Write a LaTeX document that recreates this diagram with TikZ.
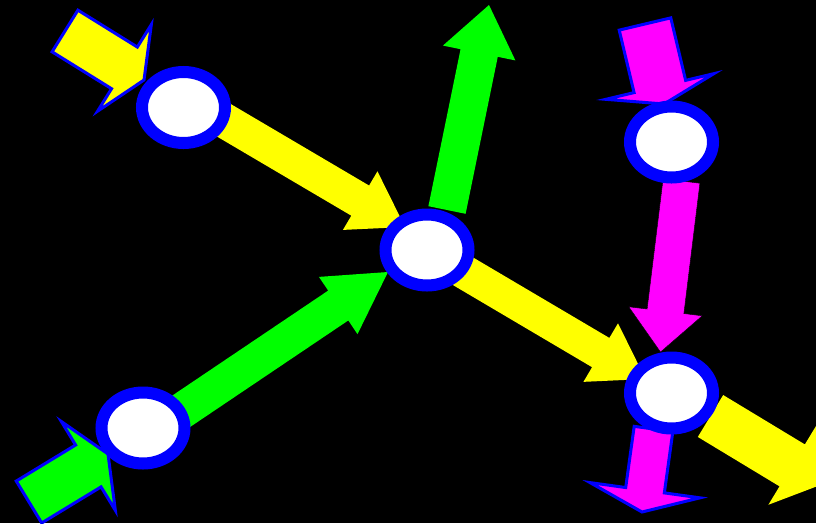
\documentclass[tikz,border=0pt]{standalone}
\usetikzlibrary{calc,shapes.geometric}
\pgfdeclarelayer{flows}
\pgfsetlayers{flows,main}
\definecolor{flowyellow}{RGB}{255,255,0}
\definecolor{flowgreen}{RGB}{0,255,0}
\definecolor{flowmagenta}{RGB}{255,0,255}
\definecolor{hubblue}{RGB}{0,0,255}
\newcommand{\flowarrow}[6]{%
  \path[#1] ($(#2)!#4!90:(#3)$) -- ($(#3)!#6!(#2)!#4!-90:(#2)$)
    -- ($(#3)!#6!(#2)!#5!-90:(#2)$) -- (#3)
    -- ($(#3)!#6!(#2)!#5!90:(#2)$) -- ($(#3)!#6!(#2)!#4!90:(#2)$)
    -- ($(#2)!#4!-90:(#3)$) -- cycle;}

\begin{document}
\begin{tikzpicture}[
  x=1pt, y=-1pt,
  hub/.style={ellipse, draw=hubblue, fill=white, line width=12pt, minimum width=83pt, minimum height=71pt, inner sep=0pt},
  yflow/.style={fill=flowyellow},
  gflow/.style={fill=flowgreen},
  mflow/.style={fill=flowmagenta},
  rim/.style={draw=hubblue, line width=3pt}
]
  \useasboundingbox (0,0) rectangle (816,523);
  \node[hub] (n1) at (183.5,107.5) {};
  \node[hub] (n2) at (427,250) {};
  \node[hub] (n3) at (671.5,142) {};
  \node[hub] (n4) at (143,428) {};
  \node[hub] (n5) at (671.5,393) {};

  \coordinate (y1t) at (65,31);
  \coordinate (y1h) at ($(n1)+(-39.5,-27.5)$);
  \coordinate (y2t) at ($(n1)+(0,-11)$);
  \coordinate (y2h) at ($(n2)+(-22,-23)$);
  \coordinate (y3h) at ($(n5)+(-26,-14)$);
  \coordinate (y4t) at ($(n5)+(39,23)$);
  \coordinate (y4h) at (823,484);
  \coordinate (g1t) at (29,502);
  \coordinate (g1h) at ($(n4)+(-35,26)$);
  \coordinate (g2t) at ($(n4)+(0,9)$);
  \coordinate (g2h) at ($(n2)+(-39,22)$);
  \coordinate (g3t) at ($(n2)+(20,-40)$);
  \coordinate (g3h) at (489,5);
  \coordinate (m1t) at (645,24);
  \coordinate (m1h) at ($(n3)+(-7.5,-38)$);
  \coordinate (m2t) at ($(n3)+(10,39)$);
  \coordinate (m2h) at ($(n5)+(-11,-41)$);
  \coordinate (m3t) at ($(n5)+(-18,36)$);
  \coordinate (m3h) at (642,512);

  \begin{pgfonlayer}{flows}
    \clip (0,0) rectangle (816,523);
    \fill[black] (0,0) rectangle (816,523);
    \flowarrow{yflow, rim}{y1t}{y1h}{24.5pt}{51pt}{23pt}
    \flowarrow{yflow}{y2t}{y2h}{17.5pt}{34pt}{52pt}
    \flowarrow{yflow}{n2}{y3h}{17pt}{34pt}{52pt}
    \flowarrow{yflow}{y4t}{y4h}{24.5pt}{46pt}{36pt}
    \flowarrow{gflow, rim}{g1t}{g1h}{24.5pt}{52pt}{23pt}
    \flowarrow{gflow}{g2t}{g2h}{18pt}{34.5pt}{60pt}
    \flowarrow{gflow}{g3t}{g3h}{19pt}{37pt}{49pt}
    \flowarrow{mflow, rim}{m1t}{m1h}{26.5pt}{55.5pt}{18pt}
    \flowarrow{mflow, draw=black}{m2t}{m2h}{18.5pt}{37pt}{41pt}
    \flowarrow{mflow, rim}{m3t}{m3h}{19.5pt}{55.5pt}{22pt}
  \end{pgfonlayer}
\end{tikzpicture}
\end{document}
